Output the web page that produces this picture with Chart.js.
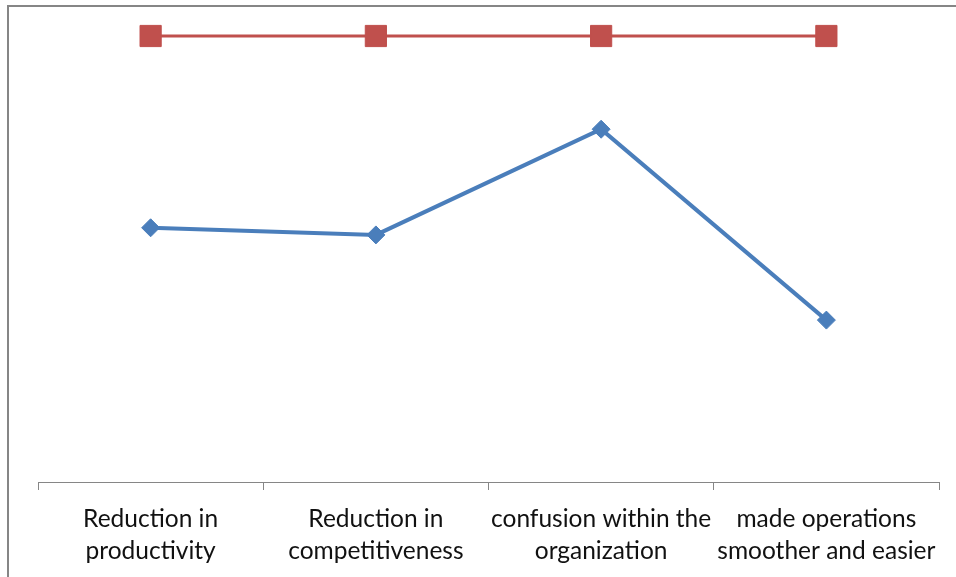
<!DOCTYPE html>
<html>
<head>
<meta charset="utf-8">
<script src="https://cdn.jsdelivr.net/npm/chart.js@4/dist/chart.umd.min.js"></script>
<style>
  html, body { margin: 0; padding: 0; background: #fff; }
  #wrap { position: relative; width: 956px; height: 577px; overflow: hidden; }
  #frame { position: absolute; left: 7px; top: 5px; width: 1000px; height: 1000px;
           border-left: 2px solid #868686; border-top: 2px solid #868686; box-sizing: border-box; }
  canvas { position: absolute; left: 0; top: 0; }
</style>
</head>
<body>
<div id="wrap">
  <div id="frame"></div>
  <canvas id="c" width="956" height="577"></canvas>
</div>
<script>
  // categories and values (hidden value axis, 0..100)
  const categories = [
    ["Reduction in", "productivity"],
    ["Reduction in", "competitiveness"],
    ["confusion within the", "organization"],
    ["made operations", "smoother and easier"]
  ];
  const blueValues = [57, 55.4, 79.1, 36.3];
  const redValues  = [100, 100, 100, 100];

  const ctx = document.getElementById("c").getContext("2d");
  new Chart(ctx, {
    type: "line",
    data: {
      labels: categories,
      datasets: [
        {
          data: redValues,
          borderColor: "#C0504D",
          backgroundColor: "#C0504D",
          borderWidth: 3,
          pointStyle: "rect",
          pointRadius: 15,
          pointBorderWidth: 1,
          clip: false
        },
        {
          data: blueValues,
          borderColor: "#4A7EBB",
          backgroundColor: "#4A7EBB",
          borderWidth: 4,
          pointStyle: "rectRot",
          pointRadius: 9,
          pointBorderWidth: 1,
          clip: false
        }
      ]
    },
    options: {
      responsive: false,
      animation: false,
      layout: { padding: { left: 38, right: 17, top: 36, bottom: 0 } },
      plugins: { legend: { display: false }, tooltip: { enabled: false } },
      scales: {
        y: { display: false, min: 0, max: 100 },
        x: {
          offset: true,
          afterFit: s => { s.height = 95; },
          grid: { offset: true, drawOnChartArea: false, tickLength: 8, color: "#868686", lineWidth: 1 },
          border: { display: true, color: "#868686", width: 1 },
          ticks: {
            color: "#111",
            maxRotation: 0,
            autoSkip: false,
            padding: 13,
            font: { family: "Lato", size: 24.5, lineHeight: 1.3 }
          }
        }
      }
    }
  });
</script>
</body>
</html>
